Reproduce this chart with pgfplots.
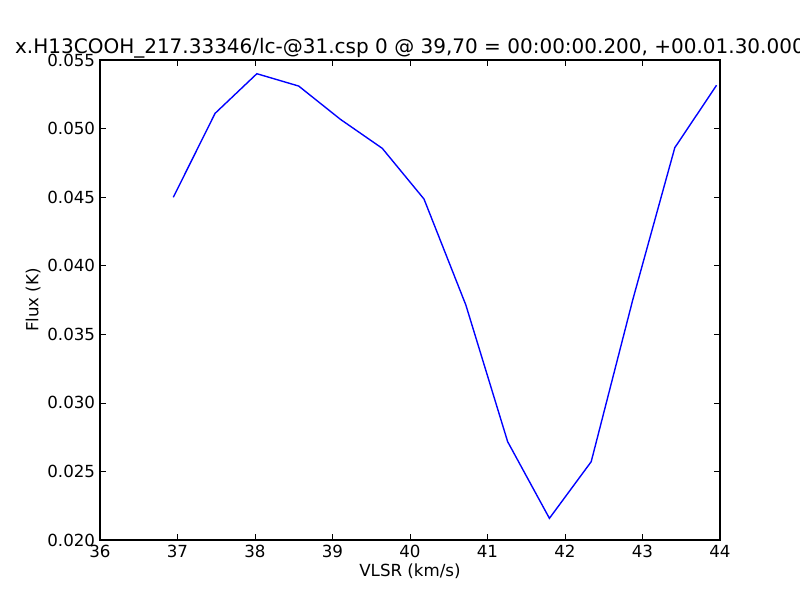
\documentclass[border=0pt]{standalone}
\usepackage{fontspec}
\setmainfont{DejaVu Sans}
\usepackage{pgfplots}
\pgfplotsset{compat=1.18}

% 1 px of the 800x600 figure = 0.72pt
\begin{document}
\begin{tikzpicture}
\begin{axis}[
    at={(0,0)}, anchor=south west,
    scale only axis,
    width=446.4pt, height=345.6pt,
    xmin=36, xmax=44, ymin=0.020, ymax=0.055,
    xtick={36,37,...,44},
    ytick={0.020,0.025,...,0.056},
    minor tick num=0,
    tick align=inside, tick pos=both,
    major tick length=4pt,
    every tick/.style={black, line width=0.5pt},
    axis line style={black, line width=1pt},
    scaled y ticks=false,
    /pgf/number format/assume math mode=true,
    yticklabel style={/pgf/number format/.cd, fixed, fixed zerofill, precision=3},
    xticklabel style={/pgf/number format/.cd, fixed},
    tick label style={font=\fontsize{12}{14}\selectfont},
    label style={font=\fontsize{12}{14}\selectfont},
    xlabel={VLSR (km/s)},
    ylabel={Flux (K)},
    xlabel style={yshift=2pt},
    ylabel style={yshift=-2pt},
    clip=false,
]
\addplot[blue, line width=1pt, mark=none] coordinates {
    (36.946, 0.04499) (37.485, 0.05111) (38.024, 0.05400) (38.564, 0.05310)
    (39.103, 0.05067) (39.642, 0.04856) (40.181, 0.04486) (40.721, 0.03713)
    (41.260, 0.02717) (41.799, 0.02158) (42.338, 0.02571) (42.877, 0.03757)
    (43.417, 0.04861) (43.956, 0.05316)
};
\node[anchor=base, font=\fontsize{14.4}{17}\selectfont, inner sep=0pt]
    at (rel axis cs:0.5,1) [yshift=4.5pt]
    {x.H13COOH\_217.33346/lc-@31.csp 0 @ 39,70 = 00:00:00.200, +00.01.30.000};
\end{axis}
\pgfresetboundingbox
\path[use as bounding box] (-72pt,-43.2pt) rectangle ++(576pt,432pt);
\end{tikzpicture}
\end{document}
